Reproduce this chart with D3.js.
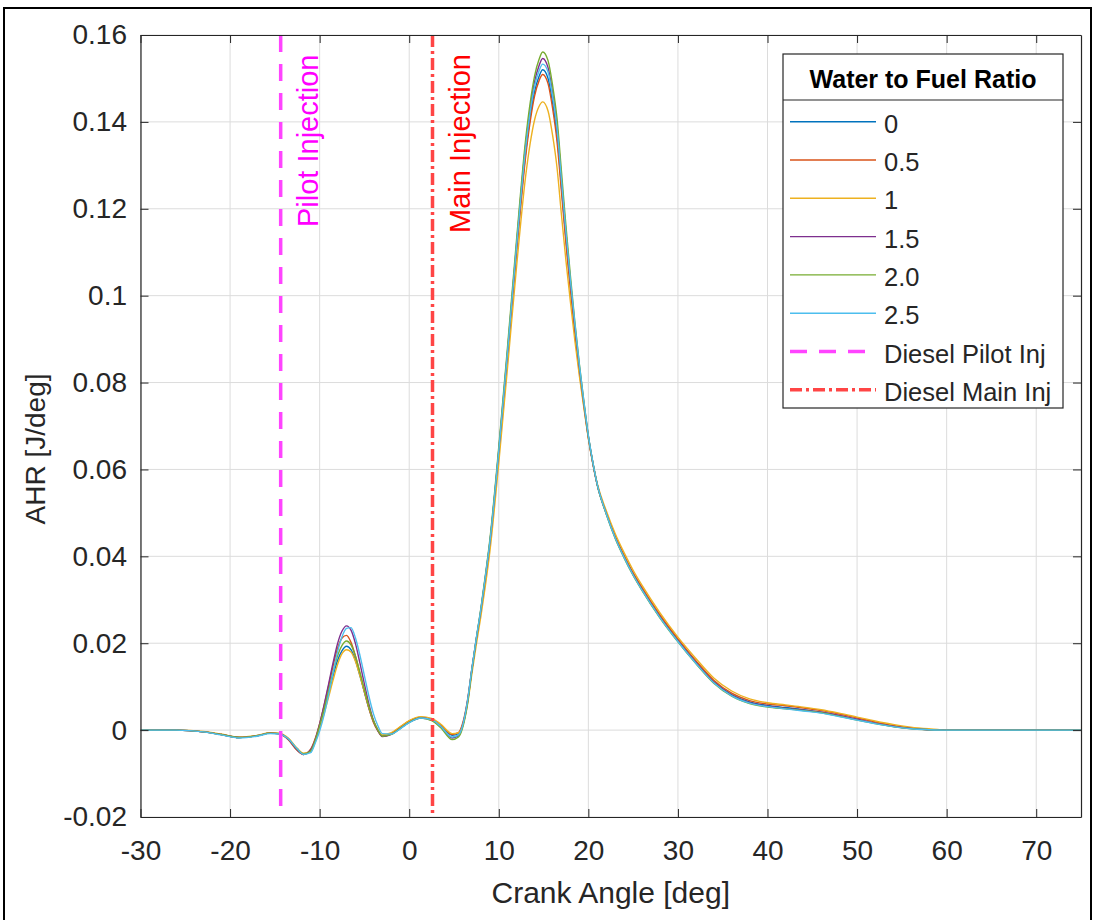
<!DOCTYPE html>
<html>
<head>
<meta charset="utf-8">
<script src="https://cdn.jsdelivr.net/npm/d3@7"></script>
<style>
  body { margin: 0; background: #fff; }
  svg { display: block; font-family: "Liberation Sans", Arial, Helvetica, sans-serif; }
  .axis text { fill: #262626; font-size: 28px; }
  .axis path, .axis line { stroke: #262626; }
</style>
</head>
<body>
<svg id="chart" width="1097" height="920"></svg>
<script>
// Data
const crankAngle = [
  -30, -26, -23, -21, -19, -17, -15.5, -14.5, -13.5, -12.5, -11.8, -11,
  -10.5, -10, -9.5, -9, -8.5, -8, -7.5, -7, -6.5, -6, -5.5, -5, -4.5, -4, -3.5,
  -3, -2, -1, 0, 1.3, 2.5, 3.5, 4.8, 5.5, 6, 6.5, 7, 7.5, 8, 8.5,
  9, 10, 11, 12, 13, 13.5, 14, 14.5, 14.9, 15.5, 16, 16.5, 17, 17.5, 18,
  18.5, 19, 19.5, 20, 20.5, 21, 22, 23, 24, 25, 26, 28, 30, 32, 34, 36, 38, 40,
  42, 44, 46, 48, 50, 52, 54, 56, 58, 60, 75
];

const ahrWfr0 = [
  0, 0, -0.0004, -0.0010, -0.0017, -0.0013, -0.0007, -0.0008, -0.0020, -0.0045, -0.0055, -0.0047,
  -0.0025, 0.0008, 0.0045, 0.0085, 0.0125, 0.0160, 0.0183, 0.0193, 0.0185, 0.0160, 0.0125, 0.0087, 0.0050, 0.0020, 0.0000,
  -0.0013, -0.0009, 0.0005, 0.0019, 0.0029, 0.0024, 0.0010, -0.0012, -0.0008, 0.0015, 0.0065, 0.0140, 0.0210, 0.0275, 0.0350,
  0.0430, 0.0640, 0.0870, 0.1110, 0.1330, 0.1410, 0.1470, 0.1505, 0.1520, 0.1500, 0.1445, 0.1370, 0.1250, 0.1130, 0.1020,
  0.0920, 0.0830, 0.0750, 0.0675, 0.0615, 0.0565, 0.0500, 0.0445, 0.0400, 0.0360, 0.0325, 0.0262, 0.0207, 0.0157, 0.0112, 0.0082, 0.0065, 0.0057,
  0.0052, 0.0047, 0.0041, 0.0033, 0.0024, 0.0016, 0.0009, 0.0004, 0.0001, 0, 0
];
const ahrWfr05 = [
  0, 0, -0.0004, -0.0010, -0.0017, -0.0013, -0.0007, -0.0009, -0.0022, -0.0047, -0.0056, -0.0044,
  -0.0020, 0.0015, 0.0057, 0.0102, 0.0148, 0.0188, 0.0212, 0.0218, 0.0202, 0.0170, 0.0130, 0.0088, 0.0050, 0.0018, -0.0002,
  -0.0014, -0.0008, 0.0007, 0.0021, 0.0030, 0.0025, 0.0012, -0.0010, -0.0006, 0.0018, 0.0068, 0.0142, 0.0210, 0.0273, 0.0346,
  0.0425, 0.0635, 0.0865, 0.1102, 0.1320, 0.1400, 0.1460, 0.1495, 0.1509, 0.1488, 0.1432, 0.1355, 0.1238, 0.1120, 0.1012,
  0.0913, 0.0824, 0.0746, 0.0672, 0.0613, 0.0564, 0.0500, 0.0446, 0.0402, 0.0362, 0.0328, 0.0265, 0.0210, 0.0160, 0.0115, 0.0085, 0.0068, 0.0060,
  0.0056, 0.0051, 0.0045, 0.0037, 0.0028, 0.0019, 0.0011, 0.0005, 0.0001, 0, 0
];
const ahrWfr1 = [
  0, 0, -0.0003, -0.0009, -0.0016, -0.0012, -0.0006, -0.0007, -0.0018, -0.0042, -0.0053, -0.0049,
  -0.0028, 0.0003, 0.0038, 0.0076, 0.0115, 0.0151, 0.0176, 0.0185, 0.0180, 0.0158, 0.0125, 0.0089, 0.0053, 0.0022, 0.0001,
  -0.0011, -0.0006, 0.0008, 0.0022, 0.0031, 0.0027, 0.0014, -0.0008, -0.0006, 0.0012, 0.0058, 0.0130, 0.0198, 0.0262, 0.0332,
  0.0410, 0.0615, 0.0840, 0.1070, 0.1275, 0.1350, 0.1405, 0.1436, 0.1446, 0.1425, 0.1370, 0.1295, 0.1185, 0.1080, 0.0985,
  0.0895, 0.0815, 0.0742, 0.0672, 0.0615, 0.0567, 0.0505, 0.0452, 0.0408, 0.0368, 0.0333, 0.0270, 0.0214, 0.0165, 0.0120, 0.0090, 0.0072, 0.0063,
  0.0058, 0.0053, 0.0047, 0.0039, 0.0030, 0.0021, 0.0013, 0.0007, 0.0003, 0, 0
];
const ahrWfr15 = [
  0, 0, -0.0004, -0.0010, -0.0017, -0.0013, -0.0007, -0.0008, -0.0021, -0.0046, -0.0056, -0.0045,
  -0.0022, 0.0014, 0.0058, 0.0106, 0.0155, 0.0199, 0.0228, 0.0240, 0.0230, 0.0199, 0.0154, 0.0106, 0.0060, 0.0023, -0.0001,
  -0.0015, -0.0010, 0.0004, 0.0018, 0.0028, 0.0023, 0.0008, -0.0018, -0.0013, 0.0012, 0.0064, 0.0140, 0.0211, 0.0277, 0.0352,
  0.0432, 0.0645, 0.0878, 0.1122, 0.1348, 0.1430, 0.1493, 0.1530, 0.1546, 0.1525, 0.1468, 0.1390, 0.1268, 0.1145, 0.1032,
  0.0928, 0.0835, 0.0752, 0.0676, 0.0615, 0.0564, 0.0498, 0.0443, 0.0398, 0.0358, 0.0323, 0.0260, 0.0205, 0.0155, 0.0110, 0.0080, 0.0063, 0.0055,
  0.0050, 0.0046, 0.0041, 0.0034, 0.0025, 0.0016, 0.0009, 0.0004, 0.0001, 0, 0
];
const ahrWfr20 = [
  0, 0, -0.0004, -0.0010, -0.0017, -0.0013, -0.0007, -0.0008, -0.0020, -0.0044, -0.0055, -0.0048,
  -0.0024, 0.0010, 0.0049, 0.0091, 0.0134, 0.0171, 0.0195, 0.0205, 0.0196, 0.0170, 0.0133, 0.0093, 0.0054, 0.0022, 0.0000,
  -0.0014, -0.0010, 0.0004, 0.0018, 0.0028, 0.0022, 0.0006, -0.0022, -0.0016, 0.0008, 0.0060, 0.0138, 0.0212, 0.0280, 0.0356,
  0.0438, 0.0652, 0.0888, 0.1133, 0.1360, 0.1443, 0.1506, 0.1544, 0.1561, 0.1541, 0.1485, 0.1408, 0.1285, 0.1160, 0.1045,
  0.0938, 0.0842, 0.0757, 0.0678, 0.0616, 0.0564, 0.0497, 0.0441, 0.0396, 0.0356, 0.0321, 0.0258, 0.0203, 0.0153, 0.0108, 0.0078, 0.0061, 0.0053,
  0.0049, 0.0045, 0.0040, 0.0032, 0.0023, 0.0015, 0.0008, 0.0003, 0.0001, 0, 0
];
const ahrWfr25 = [
  0, 0, -0.0004, -0.0011, -0.0018, -0.0014, -0.0008, -0.0009, -0.0020, -0.0043, -0.0056, -0.0052,
  -0.0030, -0.0002, 0.0035, 0.0082, 0.0132, 0.0180, 0.0215, 0.0234, 0.0236, 0.0212, 0.0172, 0.0125, 0.0078, 0.0038, 0.0010,
  -0.0008, -0.0009, 0.0003, 0.0017, 0.0028, 0.0024, 0.0009, -0.0016, -0.0011, 0.0013, 0.0066, 0.0142, 0.0213, 0.0278, 0.0353,
  0.0432, 0.0643, 0.0875, 0.1118, 0.1340, 0.1422, 0.1483, 0.1518, 0.1533, 0.1515, 0.1460, 0.1385, 0.1265, 0.1145, 0.1035,
  0.0935, 0.0840, 0.0756, 0.0678, 0.0617, 0.0565, 0.0498, 0.0442, 0.0397, 0.0357, 0.0322, 0.0259, 0.0204, 0.0154, 0.0109, 0.0079, 0.0062, 0.0054,
  0.0049, 0.0044, 0.0039, 0.0031, 0.0023, 0.0015, 0.0008, 0.0003, 0.0001, 0, 0
];

const seriesNames = ['0', '0.5', '1', '1.5', '2.0', '2.5'];
const seriesValues = [ahrWfr0, ahrWfr05, ahrWfr1, ahrWfr15, ahrWfr20, ahrWfr25];
const seriesColors = ['#0072BD', '#D95319', '#EDB120', '#7E2F8E', '#77AC30', '#4DBEEE'];

const injectionNames = ['Diesel Pilot Inj', 'Diesel Main Inj'];
const injectionAngles = [-14.35, 2.6];
const injectionLabels = ['Pilot Injection', 'Main Injection'];

const xTicks = [-30, -20, -10, 0, 10, 20, 30, 40, 50, 60, 70];
const yTicks = [-0.02, 0, 0.02, 0.04, 0.06, 0.08, 0.1, 0.12, 0.14, 0.16];

// Dimensions
const area = { left: 140.5, right: 1081, top: 35, bottom: 817 };
const svg = d3.select('#chart');

const x = d3.scaleLinear().domain([-30, 75]).range([area.left, area.right]);
const y = d3.scaleLinear().domain([-0.02, 0.16]).range([area.bottom, area.top]);

// outer figure frame
svg.append('rect')
  .attr('x', 4).attr('y', 8).attr('width', 1087).attr('height', 940)
  .attr('fill', 'none').attr('stroke', '#000').attr('stroke-width', 2);

// 1. Gridlines
const grid = svg.append('g').attr('stroke', '#dcdcdc').attr('stroke-width', 1);
grid.selectAll('.vg').data(xTicks).join('line')
  .attr('x1', d => x(d)).attr('x2', d => x(d))
  .attr('y1', area.top).attr('y2', area.bottom);
grid.selectAll('.hg').data(yTicks).join('line')
  .attr('x1', area.left).attr('x2', area.right)
  .attr('y1', d => y(d)).attr('y2', d => y(d));

// 2. Series lines
svg.append('clipPath').attr('id', 'clip')
  .append('rect')
  .attr('x', area.left).attr('y', area.top)
  .attr('width', area.right - area.left).attr('height', area.bottom - area.top);

const line = d3.line()
  .x((d, i) => x(crankAngle[i]))
  .y(d => y(d))
  .curve(d3.curveMonotoneX);

svg.append('g').attr('clip-path', 'url(#clip)')
  .selectAll('path')
  .data(seriesValues)
  .join('path')
  .attr('d', d => line(d))
  .attr('fill', 'none')
  .attr('stroke', (d, i) => seriesColors[i])
  .attr('stroke-width', 1.4);

// 3. Injection markers
const injStyles = [
  { color: '#ff44ff', dash: '17,12', text: '#ff00ff', tx: 318, ty: 227 },
  { color: '#ff4545', dash: '12,4,3,4', text: '#ff0000', tx: 470, ty: 233 }
];
injectionAngles.forEach((a, i) => {
  svg.append('line')
    .attr('x1', x(a)).attr('x2', x(a))
    .attr('y1', area.top).attr('y2', area.bottom)
    .attr('stroke', injStyles[i].color)
    .attr('stroke-width', 3.5)
    .attr('stroke-dasharray', injStyles[i].dash);
  svg.append('text')
    .attr('transform', `translate(${injStyles[i].tx},${injStyles[i].ty}) rotate(-90)`)
    .attr('fill', injStyles[i].text)
    .style('font-size', '29px')
    .text(injectionLabels[i]);
});

// 4. Axes (ticks inward on all four sides), plain hyphen for negatives
svg.append('g').attr('class', 'axis')
  .attr('transform', `translate(0,${area.bottom})`)
  .call(d3.axisBottom(x).tickValues(xTicks).tickSize(-8).tickSizeOuter(0).tickPadding(23)
    .tickFormat(d => String(d)));
svg.append('g').attr('class', 'axis')
  .attr('transform', `translate(0,${area.top})`)
  .call(d3.axisTop(x).tickValues(xTicks).tickSize(-8).tickSizeOuter(0).tickFormat(''));
svg.append('g').attr('class', 'axis')
  .attr('transform', `translate(${area.left},0)`)
  .call(d3.axisLeft(y).tickValues(yTicks).tickSize(-8).tickSizeOuter(0).tickPadding(13.5)
    .tickFormat(d => String(d)));
svg.append('g').attr('class', 'axis')
  .attr('transform', `translate(${area.right},0)`)
  .call(d3.axisRight(y).tickValues(yTicks).tickSize(-8).tickSizeOuter(0).tickFormat(''));
svg.selectAll('.axis .domain').attr('stroke-width', 1.2);
svg.selectAll('.axis text').attr('font-family', null);

// axis labels
svg.append('text')
  .attr('x', (area.left + area.right) / 2).attr('y', 903)
  .attr('text-anchor', 'middle').attr('fill', '#262626')
  .style('font-size', '30px')
  .text('Crank Angle [deg]');
svg.append('text')
  .attr('transform', 'translate(45,449) rotate(-90)')
  .attr('text-anchor', 'middle').attr('fill', '#262626')
  .style('font-size', '28px')
  .text('AHR [J/deg]');

// 5. Legend
const lg = svg.append('g');
lg.append('rect')
  .attr('x', 783).attr('y', 54).attr('width', 280).attr('height', 354)
  .attr('fill', '#fff').attr('stroke', '#262626').attr('stroke-width', 1.2);
lg.append('line')
  .attr('x1', 783).attr('x2', 1063).attr('y1', 100).attr('y2', 100)
  .attr('stroke', '#262626').attr('stroke-width', 1.2);
lg.append('text')
  .attr('x', 923).attr('y', 88).attr('text-anchor', 'middle')
  .attr('font-weight', 'bold').style('font-size', '25px').attr('fill', '#000')
  .text('Water to Fuel Ratio');

const legendItems = seriesNames.map((n, i) => ({ name: n, color: seriesColors[i], dash: null, w: 1.4 }))
  .concat(injectionNames.map((n, i) => ({ name: n, color: injStyles[i].color, dash: injStyles[i].dash, w: 3.5 })));

const rows = lg.selectAll('.row').data(legendItems).join('g')
  .attr('transform', (d, i) => `translate(0,${121.7 + i * 38.3})`);
rows.append('line')
  .attr('x1', 790).attr('x2', 876)
  .attr('stroke', d => d.color)
  .attr('stroke-width', d => d.w)
  .attr('stroke-dasharray', d => d.dash);
rows.append('text')
  .attr('x', 884).attr('y', 11)
  .attr('fill', '#262626').style('font-size', '25.5px')
  .text(d => d.name);
</script>
</body>
</html>
